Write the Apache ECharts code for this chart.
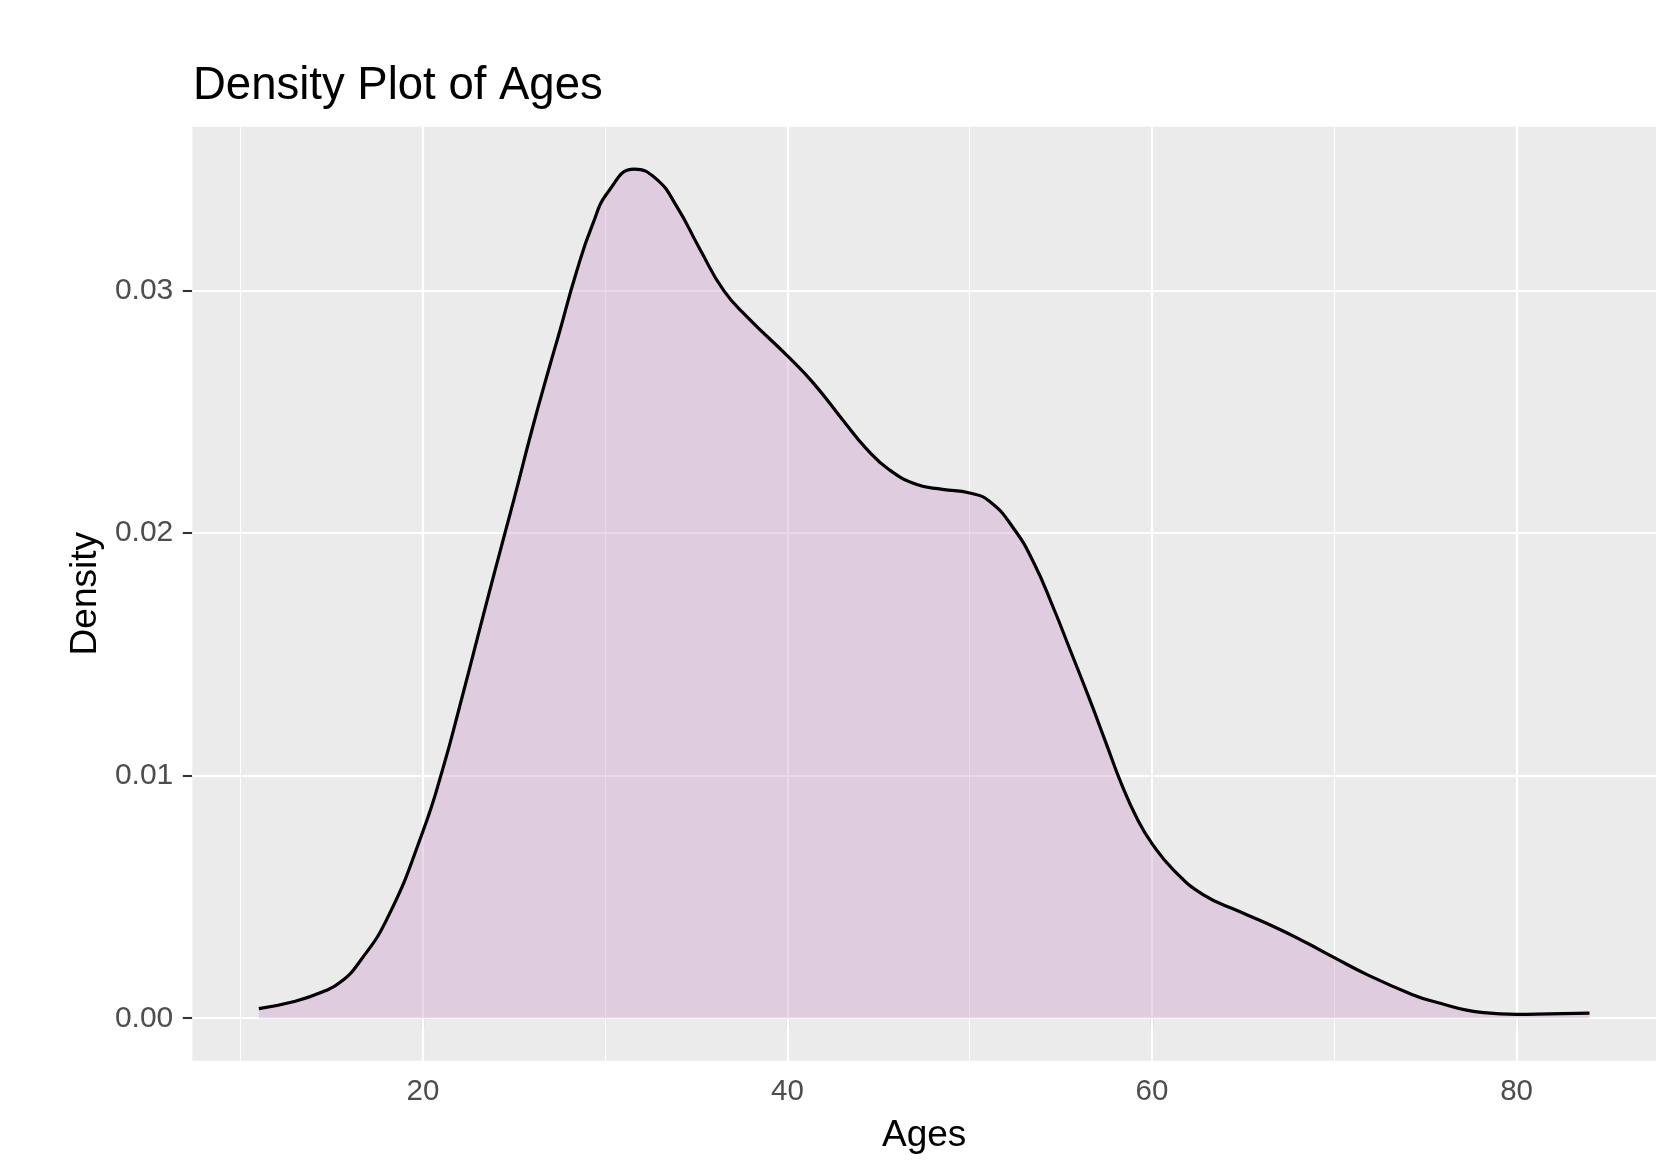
<!DOCTYPE html>
<html>
<head>
<meta charset="utf-8">
<script src="https://cdn.jsdelivr.net/npm/echarts@6/dist/echarts.min.js"></script>
<style>
html,body{margin:0;padding:0;background:#fff;}
#chart{width:1668px;height:1170px;}
</style>
</head>
<body>
<div id="chart"></div>
<script>
const ages = [11.0, 13.0, 14.6, 15.5, 16.5, 18.1, 20.0, 21.1, 22.0, 23.0, 23.9, 25.0, 26.0, 27.0, 27.5, 28.4, 29.3, 30.2, 31.6, 32.8, 33.9, 35.2, 36.5, 37.8, 40.0, 41.4, 43.1, 44.3, 45.6, 47.1, 48.5, 50.0, 51.1, 52.4, 53.5, 54.6, 55.5, 56.6, 57.5, 58.3, 59.2, 60.0, 61.2, 62.8, 64.8, 66.9, 68.5, 70.0, 71.8, 74.2, 75.4, 78.2, 80.0, 81.8, 84.0];
const density = [0.0004, 0.0007, 0.00112, 0.0015, 0.0023, 0.0042, 0.0077, 0.0103, 0.0128, 0.0157, 0.0183, 0.0214, 0.0243, 0.0270, 0.0283, 0.0307, 0.0327, 0.0341, 0.0350, 0.0346, 0.0335, 0.0317, 0.0300, 0.0289, 0.0273, 0.0262, 0.0246, 0.0235, 0.0226, 0.0220, 0.0218, 0.02165, 0.0213, 0.0202, 0.0188, 0.0169, 0.0152, 0.0131, 0.0113, 0.0097, 0.0082, 0.0072, 0.0061, 0.0051, 0.0044, 0.0037, 0.0031, 0.0025, 0.0018, 0.0010, 0.0007, 0.00023, 0.00016, 0.00018, 0.00021];
const xMajorTicks = [20, 40, 60, 80];
const xMinorTicks = [10, 30, 50, 70];
const yMajorTicks = [0, 0.01, 0.02, 0.03];
const yMinorTicks = [0.005, 0.015, 0.025, 0.035];

const xMin = 7.35, xMax = 87.65;
const yMin = -0.00175, yMax = 0.03675;

const FONT = 'Liberation Sans';
const gridLines = [];
xMinorTicks.forEach(v => gridLines.push({xAxis: v, lineStyle: {color: '#ffffff', width: 1.1, type: 'solid'}}));
yMinorTicks.forEach(v => gridLines.push({yAxis: v, lineStyle: {color: '#ffffff', width: 1.1, type: 'solid'}}));
xMajorTicks.forEach(v => gridLines.push({xAxis: v, lineStyle: {color: '#ffffff', width: 2.2, type: 'solid'}}));
yMajorTicks.forEach(v => gridLines.push({yAxis: v, lineStyle: {color: '#ffffff', width: 2.2, type: 'solid'}}));

const chart = echarts.init(document.getElementById('chart'), null, {renderer: 'canvas'});
chart.setOption({
  animation: false,
  backgroundColor: '#ffffff',
  title: {
    text: 'Density Plot of Ages',
    left: 188,
    top: 58,
    textStyle: {fontFamily: FONT, fontSize: 45.5, fontWeight: 'normal', color: '#000000'}
  },
  grid: {
    left: 192.3, right: 12, top: 126.7, bottom: 109.3,
    show: true, backgroundColor: '#EBEBEB', borderWidth: 0
  },
  xAxis: {
    type: 'value', min: xMin, max: xMax,
    name: 'Ages', nameLocation: 'middle', nameGap: 57,
    nameTextStyle: {fontFamily: FONT, fontSize: 37, color: '#000000'},
    axisLine: {show: false},
    axisTick: {show: true, length: 9.5, customValues: xMajorTicks, lineStyle: {color: '#333333', width: 2.1}},
    axisLabel: {show: true, customValues: xMajorTicks, margin: 16, fontFamily: FONT, fontSize: 29.5, color: '#4D4D4D',
      formatter: v => String(v)},
    splitLine: {show: false}
  },
  yAxis: {
    type: 'value', min: yMin, max: yMax,
    name: 'Density', nameLocation: 'middle', nameGap: 88, nameRotate: 90,
    nameTextStyle: {fontFamily: FONT, fontSize: 37, color: '#000000'},
    axisLine: {show: false},
    axisTick: {show: true, length: 9.5, customValues: yMajorTicks, lineStyle: {color: '#333333', width: 2.1}},
    axisLabel: {show: true, customValues: yMajorTicks, margin: 19, fontFamily: FONT, fontSize: 30, color: '#4D4D4D',
      formatter: v => v.toFixed(2)},
    splitLine: {show: false}
  },
  series: [
    {
      type: 'line', data: [], silent: true, z: 1,
      markLine: {silent: true, symbol: ['none', 'none'], z: 1, label: {show: false}, animation: false, data: gridLines}
    },
    {
      type: 'line', z: 3,
      data: ages.map((a, i) => [a, density[i]]),
      smooth: 0.5,
      showSymbol: false,
      lineStyle: {color: '#000000', width: 3.2},
      areaStyle: {color: 'rgba(204,160,204,0.4)', origin: 'auto', opacity: 1}
    }
  ]
});
</script>
</body>
</html>
